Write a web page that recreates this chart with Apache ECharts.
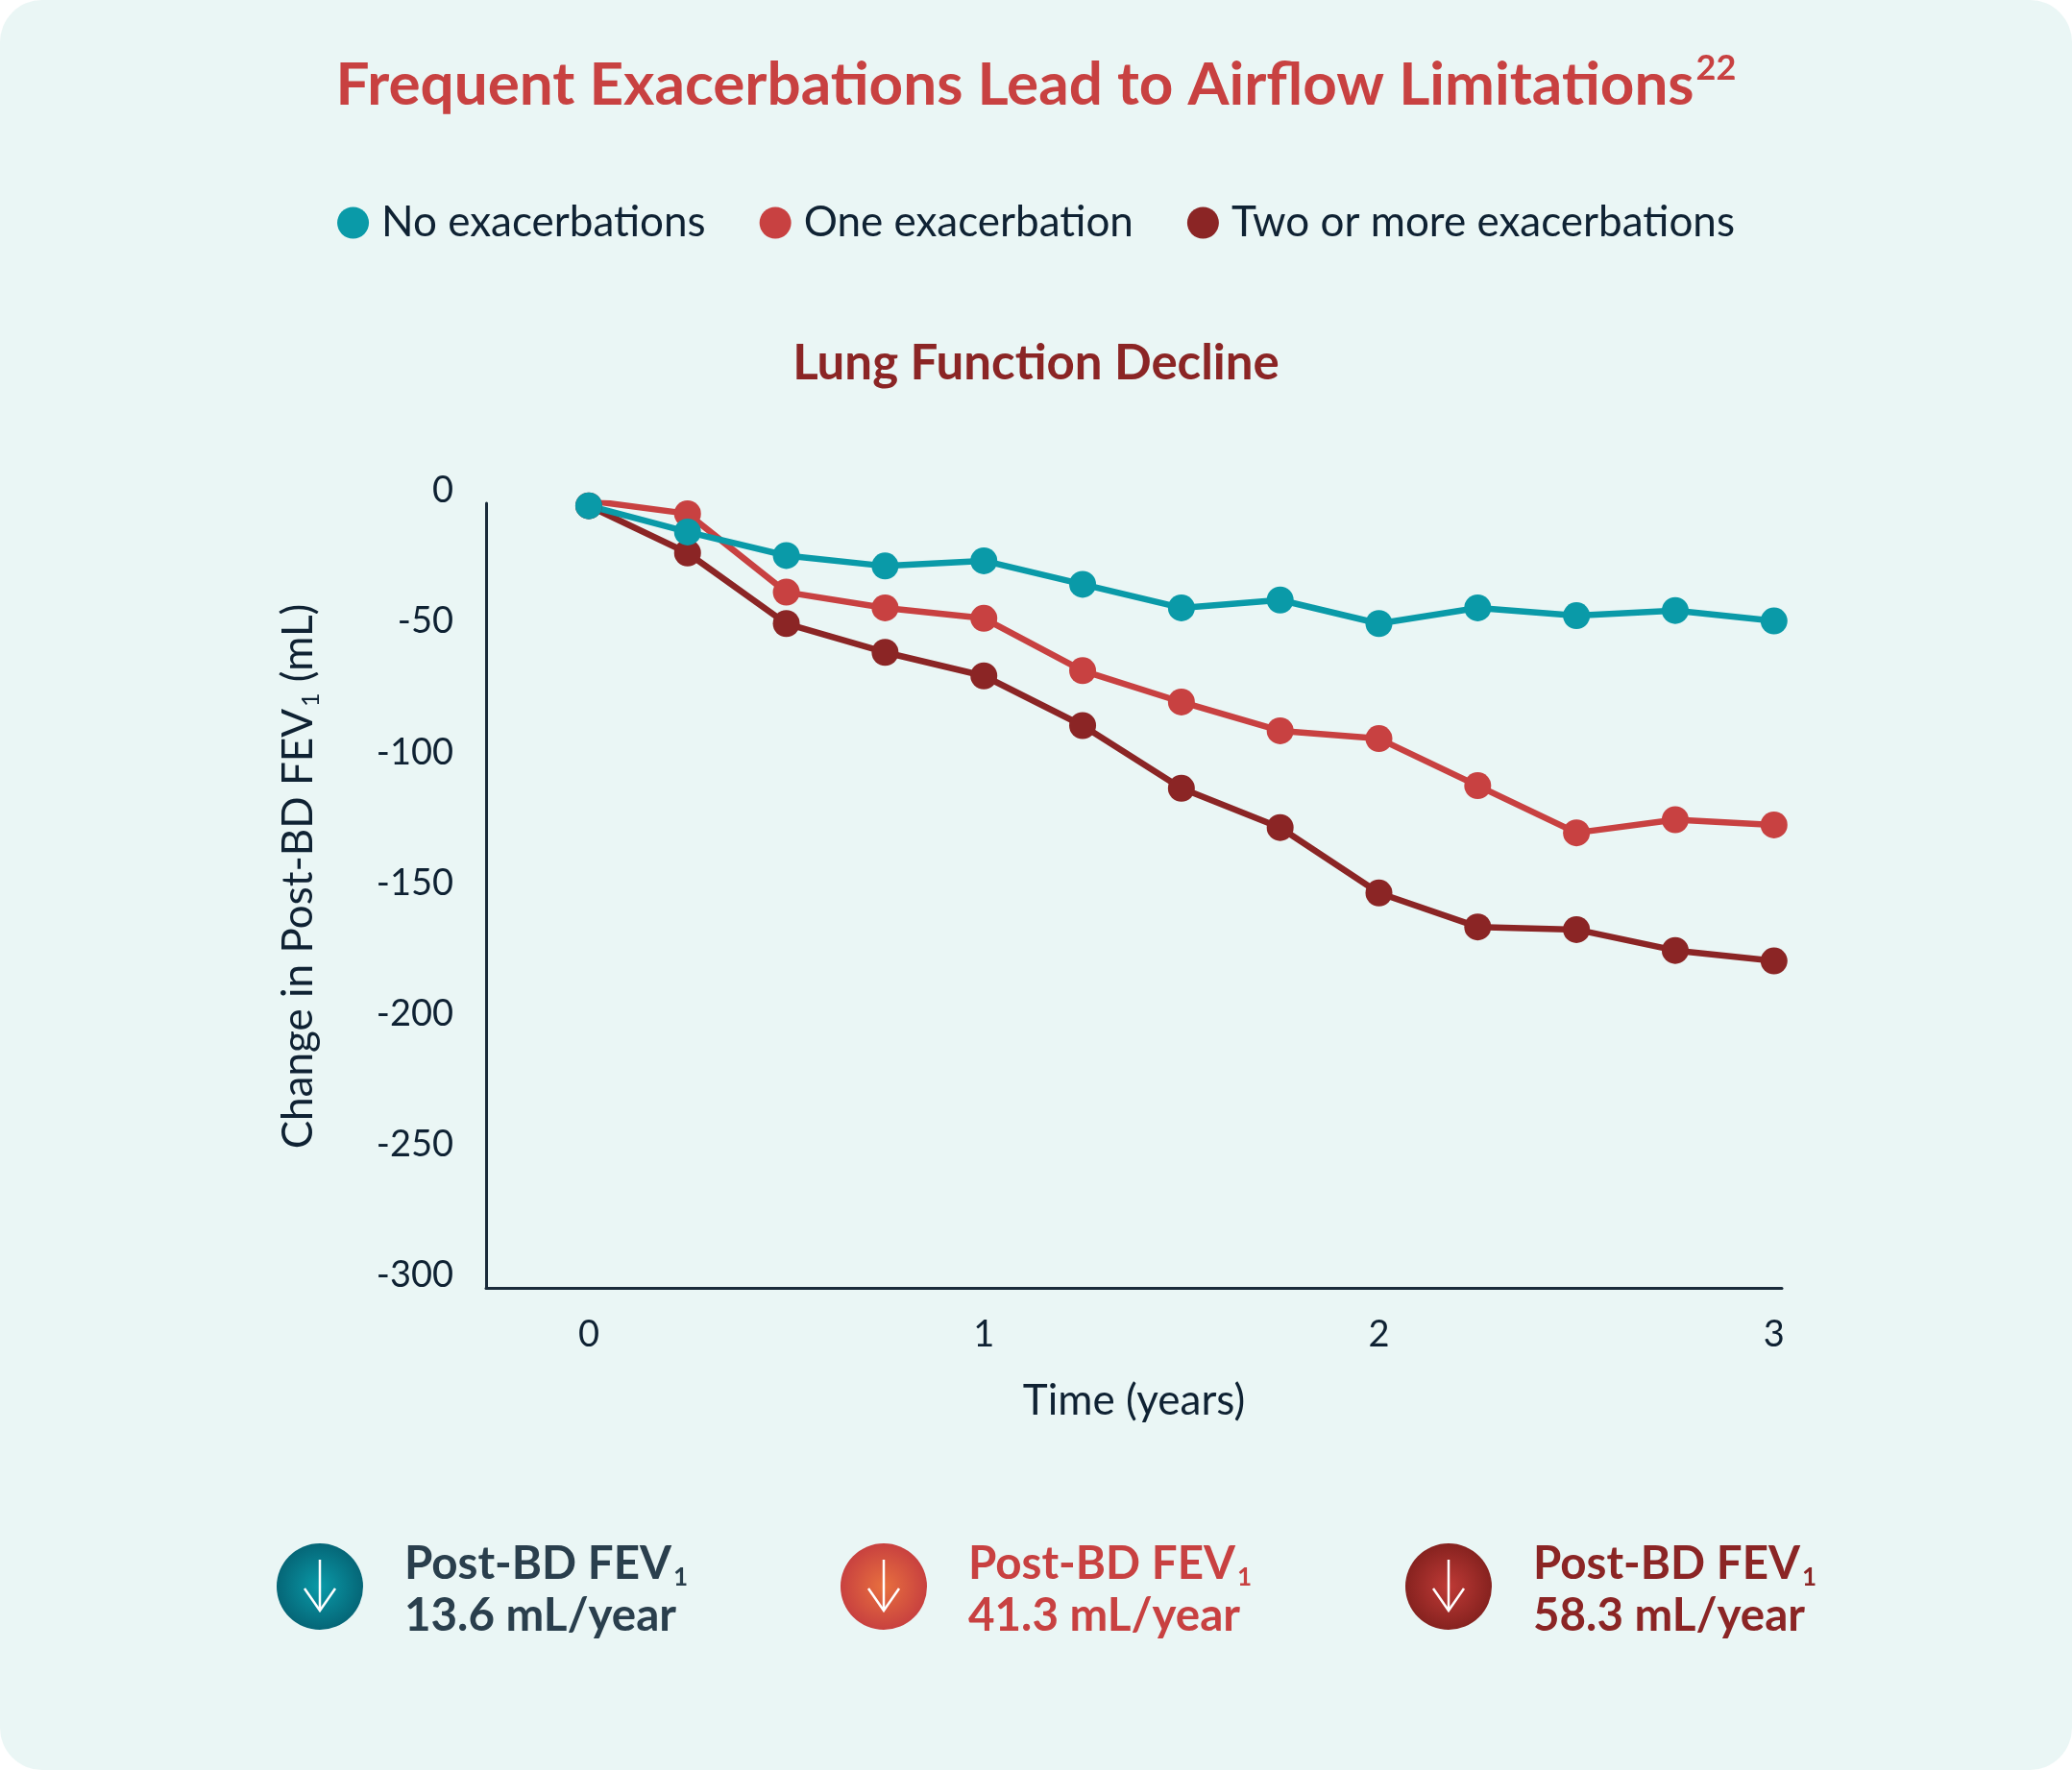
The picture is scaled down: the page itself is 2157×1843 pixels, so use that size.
<!DOCTYPE html>
<html>
<head>
<meta charset="utf-8">
<title>Frequent Exacerbations Lead to Airflow Limitations</title>
<script src="https://cdn.jsdelivr.net/npm/echarts@6/dist/echarts.min.js"></script>
<style>
  html, body { margin: 0; padding: 0; background: #ffffff; }
  #chart { width: 2157px; height: 1843px; border-radius: 44px; overflow: hidden; }
</style>
</head>
<body>
<div id="chart"></div>
<script>
// time in years, quarterly visits
const years = [0, 0.25, 0.5, 0.75, 1, 1.25, 1.5, 1.75, 2, 2.25, 2.5, 2.75, 3]

// change in post-BD FEV1 (mL)
const noExac = [-1, -11, -20, -24, -22, -31, -40, -37, -46, -40, -43, -41, -45]
const oneExac = [1, -4, -34, -40, -44, -64, -76, -87, -90, -108, -126, -121, -123]
const twoExac = [-1, -19, -46, -57, -66, -85, -109, -124, -149, -162, -163, -171, -175]

const seriesNames = ['No exacerbations', 'One exacerbation', 'Two or more exacerbations']
const yTicks = [0, -50, -100, -150, -200, -250, -300]
const declineRates = ['13.6 mL/year', '41.3 mL/year', '58.3 mL/year']

const teal = '#0a9aa8'
const red = '#c84141'
const darkRed = '#8b2525'
const ink = '#0f2233'
const font = 'Lato'

const pairs = vals => years.map((t, i) => [t, vals[i]])

function badge(cx, cy, inner, outer, textColor, rate) {
  return [
    {
      type: 'circle',
      shape: { cx: cx, cy: cy, r: 45 },
      style: {
        fill: new echarts.graphic.RadialGradient(0.5, 0.5, 0.5, [
          { offset: 0, color: inner },
          { offset: 1, color: outer }
        ])
      }
    },
    {
      type: 'polyline',
      shape: { points: [[cx, cy - 28], [cx, cy + 24]] },
      style: { stroke: '#ffffff', lineWidth: 2.5, fill: null }
    },
    {
      type: 'polyline',
      shape: { points: [[cx - 16, cy + 2], [cx, cy + 25], [cx + 16, cy + 2]] },
      style: { stroke: '#ffffff', lineWidth: 2.5, fill: null }
    },
    {
      type: 'text',
      x: cx + 88,
      y: cy + 4,
      style: {
        text: '{m|Post-BD FEV}{s|1}\n{m|' + rate + '}',
        fill: textColor,
        verticalAlign: 'middle',
        rich: {
          m: { fontFamily: font, fontWeight: 'bold', fontSize: 47.5, lineHeight: 54, fill: textColor },
          s: { fontFamily: font, fontWeight: 'bold', fontSize: 26, lineHeight: 54, verticalAlign: 'bottom', padding: [56, 0, 0, 2], fill: textColor }
        }
      }
    }
  ]
}

const chart = echarts.init(document.getElementById('chart'))

chart.setOption({
  backgroundColor: '#eaf6f5',
  animation: false,
  title: [
    {
      text: '{t|Frequent Exacerbations Lead to Airflow Limitations}{sup|22}',
      left: 'center',
      top: 48,
      textStyle: {
        rich: {
          t: { fontFamily: font, fontWeight: 'bold', fontSize: 62, color: red, lineHeight: 72 },
          sup: { fontFamily: font, fontWeight: 'bold', fontSize: 36, color: red, lineHeight: 72, verticalAlign: 'top', padding: [0, 0, 24, 2] }
        }
      }
    },
    {
      text: 'Lung Function Decline',
      left: 'center',
      top: 348,
      textStyle: { fontFamily: font, fontWeight: 'bold', fontSize: 51, color: darkRed }
    }
  ],
  legend: {
    data: seriesNames,
    top: 205,
    left: 'center',
    icon: 'circle',
    itemWidth: 33,
    itemHeight: 33,
    itemGap: 56,
    textStyle: { fontFamily: font, fontSize: 44, color: ink, padding: [0, 0, 0, 8] }
  },
  grid: { left: 506, right: 302, top: 524, bottom: 502 },
  xAxis: {
    type: 'value',
    min: -0.26,
    max: 3.02,
    name: 'Time (years)',
    nameLocation: 'middle',
    nameGap: 96,
    nameTextStyle: { fontFamily: font, fontSize: 44, color: ink },
    axisLine: { show: true, onZero: false, lineStyle: { color: '#1a2b3a', width: 3 } },
    axisTick: { show: false },
    splitLine: { show: false },
    axisLabel: {
      fontFamily: font,
      fontSize: 38,
      color: ink,
      margin: 30,
      showMinLabel: false,
      showMaxLabel: false,
      formatter: v => (years.includes(v) && Number.isInteger(v) ? String(v) : '')
    }
  },
  yAxis: {
    type: 'value',
    min: yTicks[yTicks.length - 1],
    max: yTicks[0],
    interval: 50,
    name: '{m|Change in Post-BD FEV}{s|1}{m| (mL)}',
    nameLocation: 'middle',
    nameGap: 170,
    nameRotate: 90,
    nameTextStyle: {
      color: ink,
      padding: [0, 0, 0, 40],
      rich: {
        m: { fontFamily: font, fontSize: 44, color: ink, lineHeight: 50 },
        s: { fontFamily: font, fontSize: 25, color: ink, lineHeight: 50, verticalAlign: 'bottom', padding: [26, 0, 0, 2] }
      }
    },
    axisLine: { show: true, onZero: false, lineStyle: { color: '#1a2b3a', width: 3 } },
    axisTick: { show: false },
    splitLine: { show: false },
    axisLabel: {
      fontFamily: font,
      fontSize: 38,
      color: ink,
      margin: 34,
      verticalAlign: 'bottom',
      lineHeight: 26
    }
  },
  series: [
    {
      name: seriesNames[2],
      type: 'line',
      data: pairs(twoExac),
      symbol: 'circle',
      symbolSize: 28,
      color: darkRed,
      lineStyle: { width: 6.5, color: darkRed },
      itemStyle: { color: darkRed }
    },
    {
      name: seriesNames[1],
      type: 'line',
      data: pairs(oneExac),
      symbol: 'circle',
      symbolSize: 28,
      color: red,
      lineStyle: { width: 6.5, color: red },
      itemStyle: { color: red }
    },
    {
      name: seriesNames[0],
      type: 'line',
      data: pairs(noExac),
      symbol: 'circle',
      symbolSize: 28,
      color: teal,
      lineStyle: { width: 6.5, color: teal },
      itemStyle: { color: teal }
    }
  ],
  graphic: [].concat(
    badge(333, 1652, '#0a9aa8', '#056677', '#2a3f4d', declineRates[0]),
    badge(920, 1652, '#e8703f', '#c8413f', red, declineRates[1]),
    badge(1508, 1652, '#bf3a36', '#86221f', darkRed, declineRates[2])
  )
})
</script>
</body>
</html>
